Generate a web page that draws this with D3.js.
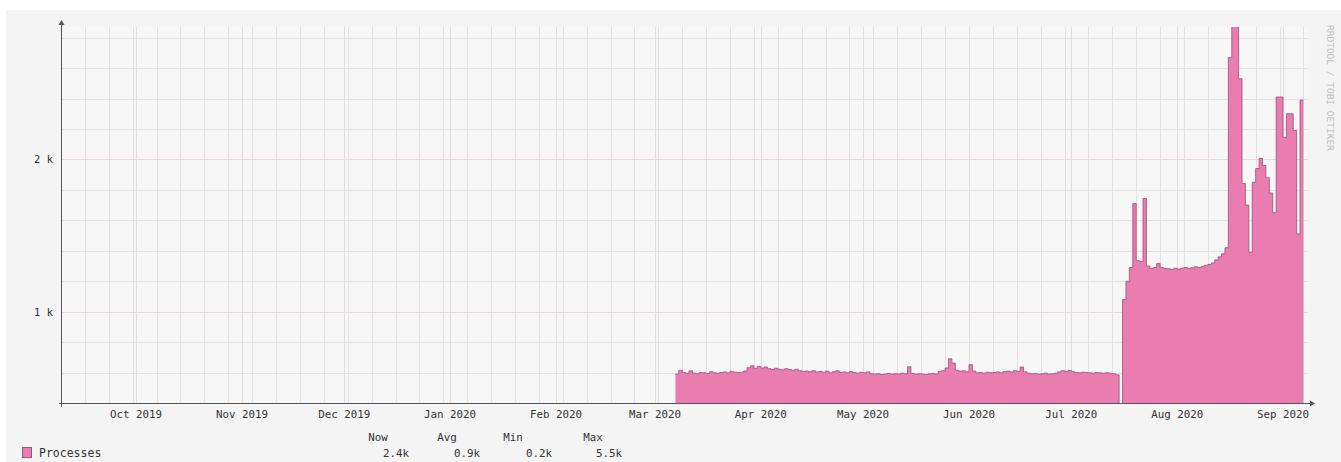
<!DOCTYPE html>
<html><head><meta charset="utf-8">
<script src="https://cdn.jsdelivr.net/npm/d3@7"></script>
<style>body{margin:0;background:#fff}svg{display:block}text{font-family:"DejaVu Sans Mono",monospace}</style>
</head><body><svg id="c" width="1341" height="462"></svg>
<script>
// ---- data (daily values) ----
const seriesName = "Processes";
const firstDay = "2020-03-07";
const marchValues = [590,615,600,595,612,596,592,600,598,594,605,598,596,600,604,598,608,602,600,602,610,632,645,628,640];
const aprilValues = [630,636,625,620,628,622,618,625,620,615,622,612,608,610,605,612,604,608,602,610,598,605,612,600,604,598,606,600,596,602];
const mayValues = [598,604,592,590,592,588,590,594,590,592,590,596,592,638,594,590,592,590,588,592,594,590,608,612,630,690,662,615,608,612,605];
const juneValues = [652,610,598,600,596,602,598,600,604,598,606,610,604,612,608,636,605,596,592,594,590,592,596,590,592,596,604,612,608,614];
const julyValues = [606,600,598,602,600,598,596,600,598,596,598,596,592,585,200,1080,1200,1290,1710,1335,1330,1743,1300,1285,1290,1316,1290,1285,1282,1278,1285];
const augustValues = [1280,1285,1290,1285,1288,1295,1290,1298,1305,1310,1320,1340,1360,1380,1420,2670,5500,3300,2530,1842,1700,1390,1850,1940,2007,1960,1880,1780,1650,2410,2410];
const septemberValues = [2145,2300,2300,2190,1510,2390];
const xDomain = ["2019-09-09T00:00:00Z", "2020-09-08T08:00:00Z"];
const yDomain = [400, 2870];
const yMajorTicks = [1000, 2000];
const yTickLabels = ["1 k", "2 k"];
const legendHeaders = ["Now", "Avg", "Min", "Max"];
const legendValues = ["2.4k", "0.9k", "0.2k", "5.5k"];
const watermark = "RRDTOOL / TOBI OETIKER";

// ---- build series ----
const allValues = [].concat(marchValues, aprilValues, mayValues, juneValues, julyValues, augustValues, septemberValues);
const start = new Date(firstDay + "T00:00:00Z");
const data = allValues.map((v, i) => ({ t: d3.utcDay.offset(start, i), v }));
data.push({ t: d3.utcDay.offset(data[data.length - 1].t, 1), v: data[data.length - 1].v });

// ---- layout ----
const L = 61, R = 1308, T = 27, B = 403;
const svg = d3.select("#c");
const x = d3.scaleUtc().domain(xDomain.map(d => new Date(d))).range([L, R]);
const y = d3.scaleLinear().domain(yDomain).range([B, T]);

svg.append("rect").attr("x", 6).attr("y", 10).attr("width", 1335).attr("height", 452).attr("fill", "#f4f4f4");
svg.append("rect").attr("x", L).attr("y", T).attr("width", R - L).attr("height", B - T).attr("fill", "#f7f7f7");

const defs = svg.append("defs");
defs.append("clipPath").attr("id", "clip").append("rect").attr("x", L).attr("y", T).attr("width", R - L).attr("height", B - T);

const g = svg.append("g");
// minor grid: weekly verticals, every 200 horizontals
const weeks = d3.utcMonday.range(x.domain()[0], x.domain()[1]);
g.selectAll(".vw").data(weeks).join("line")
  .attr("x1", d => Math.round(x(d)) + 0.5).attr("x2", d => Math.round(x(d)) + 0.5)
  .attr("y1", T).attr("y2", B).attr("stroke", "#e2e2e2").attr("stroke-width", 1);
const minorY = d3.range(600, yDomain[1], 200);
g.selectAll(".hm").data(minorY).join("line")
  .attr("x1", L).attr("x2", R).attr("y1", d => Math.round(y(d)) + 0.5).attr("y2", d => Math.round(y(d)) + 0.5)
  .attr("stroke", "#e2e2e2").attr("stroke-width", 1);
// major grid: months, 1k
const months = d3.utcMonth.range(x.domain()[0], x.domain()[1]);
g.selectAll(".vm").data(months).join("line")
  .attr("x1", d => Math.round(x(d)) + 0.5).attr("x2", d => Math.round(x(d)) + 0.5)
  .attr("y1", T).attr("y2", B).attr("stroke", "#e6dcdc").attr("stroke-width", 1);
g.selectAll(".hM").data(yMajorTicks).join("line")
  .attr("x1", L).attr("x2", R).attr("y1", d => Math.round(y(d)) + 0.5).attr("y2", d => Math.round(y(d)) + 0.5)
  .attr("stroke", "#e8d8d8").attr("stroke-width", 1);

// area
const area = d3.area().curve(d3.curveStepAfter).x(d => x(d.t)).y0(B).y1(d => y(d.v));
const line = d3.line().curve(d3.curveStepAfter).x(d => x(d.t)).y(d => y(d.v));
const plot = svg.append("g").attr("clip-path", "url(#clip)");
plot.append("path").datum(data).attr("d", area).attr("fill", "#e97db0");
plot.append("path").datum(data).attr("d", line).attr("fill", "none").attr("stroke", "#9c4f78").attr("stroke-width", 1).attr("stroke-opacity", 0.8);

// axes
svg.append("line").attr("x1", L + 0.5).attr("x2", L + 0.5).attr("y1", T - 3).attr("y2", B + 4).attr("stroke", "#555");
svg.append("line").attr("x1", L - 2).attr("x2", R + 3).attr("y1", B + 0.5).attr("y2", B + 0.5).attr("stroke", "#555");
svg.append("path").attr("d", `M${L - 2.5},${T - 2} L${L + 3.5},${T - 2} L${L + 0.5},${T - 7} Z`).attr("fill", "#555");
svg.append("path").attr("d", `M${R + 2},${B - 2.5} L${R + 2},${B + 3.5} L${R + 7},${B + 0.5} Z`).attr("fill", "#555");

// y labels
svg.selectAll(".yl").data(yMajorTicks).join("text")
  .attr("x", 53).attr("y", d => y(d) + 4).attr("text-anchor", "end")
  .attr("font-size", 10.5).attr("fill", "#333").text((d, i) => yTickLabels[i]);

// x labels
const fmt = d3.utcFormat("%b %Y");
const labelMonths = months.filter(d => x(d) > L + 20);
svg.selectAll(".xl").data(labelMonths).join("text")
  .attr("x", d => x(d)).attr("y", 418).attr("text-anchor", "middle")
  .attr("font-size", 10.8).attr("fill", "#333").text(d => fmt(d));

// watermark
svg.append("text").attr("transform", "translate(1327,25) rotate(90)")
  .attr("font-size", 9.5).attr("fill", "#bdbdbd").text(watermark);

// legend
svg.append("rect").attr("x", 22.5).attr("y", 447.5).attr("width", 9).attr("height", 10)
  .attr("fill", "#e97db0").attr("stroke", "#9c4f78");
svg.append("text").attr("x", 39).attr("y", 457).attr("font-size", 11.5).attr("fill", "#333").text(seriesName);
const headerX = [378, 447, 513, 593];
svg.selectAll(".lh").data(legendHeaders).join("text")
  .attr("x", (d, i) => headerX[i]).attr("y", 441).attr("text-anchor", "middle")
  .attr("font-size", 10.8).attr("fill", "#333").text(d => d);
const valueRight = [409, 480, 552, 622];
svg.selectAll(".lv").data(legendValues).join("text")
  .attr("x", (d, i) => valueRight[i]).attr("y", 457).attr("text-anchor", "end")
  .attr("font-size", 10.8).attr("fill", "#333").text(d => d);
</script></body></html>
